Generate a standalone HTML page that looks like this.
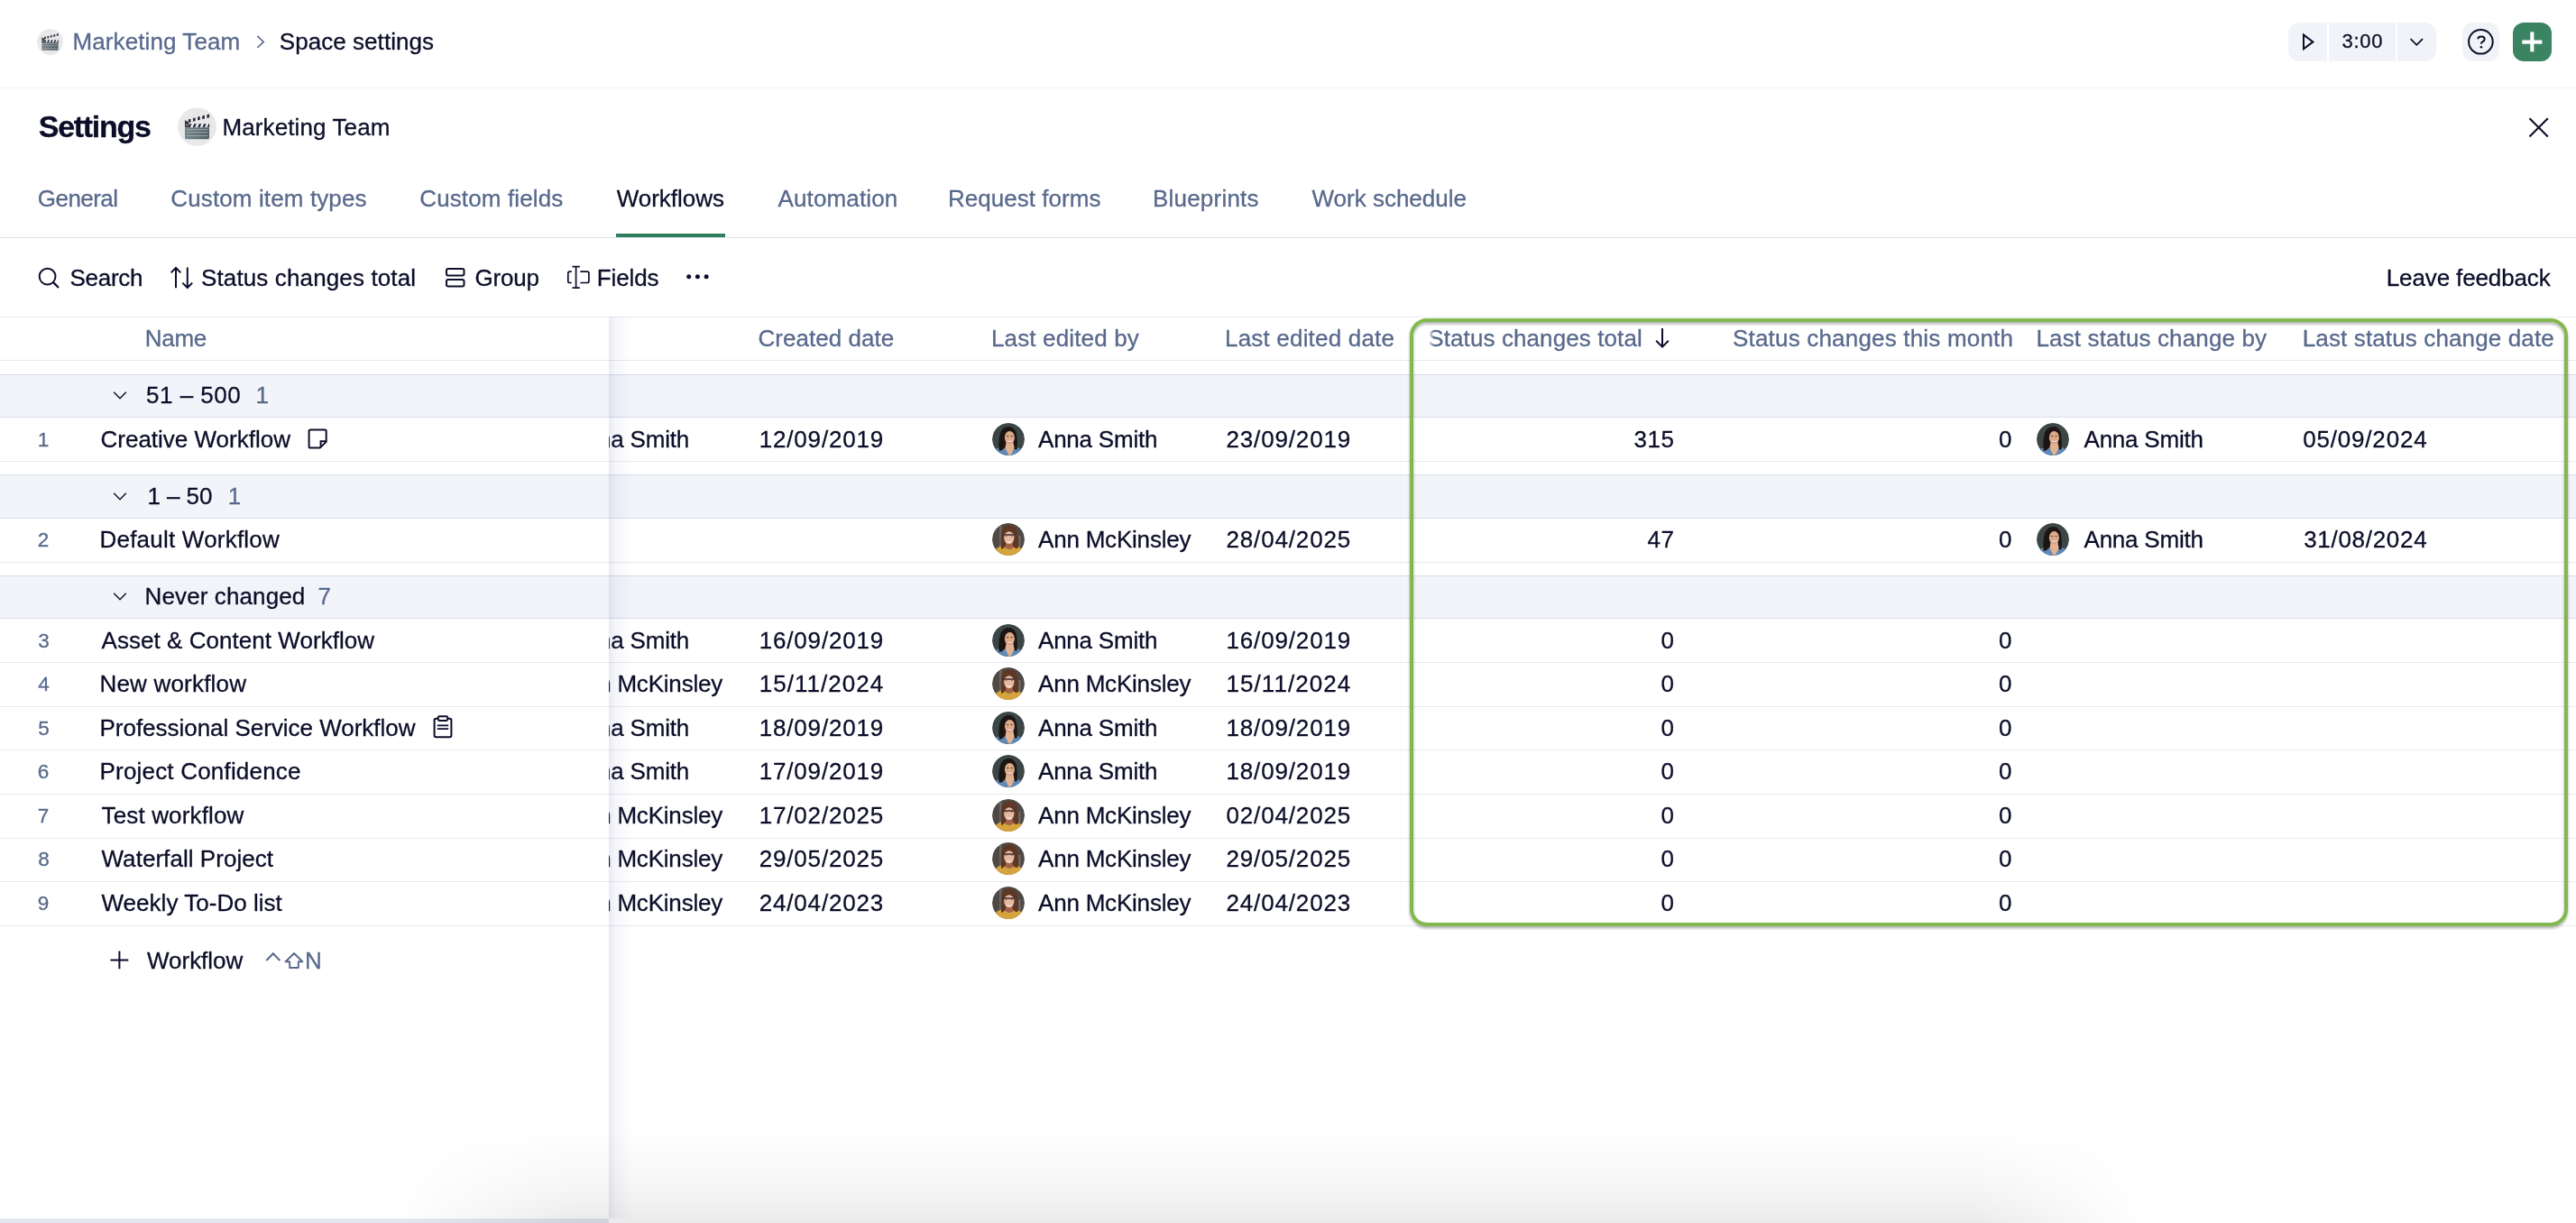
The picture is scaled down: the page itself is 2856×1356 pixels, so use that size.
<!DOCTYPE html>
<html><head><meta charset="utf-8"><title>Space settings</title>
<style>
html,body{margin:0;padding:0;width:2856px;height:1356px;overflow:hidden;background:#fff;}
body{position:relative;font-family:"Liberation Sans",sans-serif;-webkit-font-smoothing:antialiased;}
.t{position:absolute;line-height:0;white-space:nowrap;}
.a{position:absolute;display:block;overflow:visible;}
.r{position:absolute;}
.L{position:absolute;left:0;top:0;width:2856px;height:1356px;will-change:transform;}
.t{-webkit-text-stroke:0.3px currentColor;}
</style></head><body>
<svg width="0" height="0" style="position:absolute"><defs><clipPath id="cav"><circle cx="18" cy="18" r="18"/></clipPath></defs></svg>

<svg class="a" style="left:41px;top:32px" width="29" height="29" viewBox="0 0 43 43">
<defs><linearGradient id="cg41" x1="0" x2="1" y1="0" y2="0"><stop offset="0" stop-color="#76848b"/><stop offset="1" stop-color="#505c63"/></linearGradient></defs>
<circle cx="21.5" cy="21.5" r="21.3" fill="#e8e8e9"/>
<rect x="8" y="22" width="27" height="13.2" rx="1.6" fill="url(#cg41)"/>
<rect x="9.5" y="24.3" width="24" height="0.9" fill="#a9b5bb"/>
<rect x="9.5" y="27.4" width="24" height="0.9" fill="#a9b5bb"/>
<rect x="9.5" y="31.2" width="24" height="0.9" fill="#a9b5bb"/>
<rect x="8" y="18.3" width="27" height="4" fill="#eef0f3"/>
<path d="M11.2 22.3 L13.9 22.3 L15.5 18.3 L12.8 18.3Z M16.6 22.3 L19.3 22.3 L20.9 18.3 L18.2 18.3Z M22.0 22.3 L24.7 22.3 L26.3 18.3 L23.6 18.3Z M27.4 22.3 L30.1 22.3 L31.7 18.3 L29.0 18.3Z M32.6 22.3 L35.3 22.3 L35.0 18.3 L34.2 18.3Z" fill="#2f2e40"/>
<path d="M8 14.3 L34.6 7.6 L35.4 11.2 L8.6 18 Z" fill="#eef0f3"/>
<path d="M11.74 13.38 L14.56 12.68 L14.56 16.39 L11.74 17.09Z M16.89 12.10 L19.70 11.39 L19.70 15.11 L16.89 15.81Z M22.03 10.81 L24.84 10.11 L24.84 13.82 L22.03 14.52Z M27.17 9.53 L29.98 8.82 L29.98 12.53 L27.17 13.24Z M32.31 8.24 L35.12 7.54 L35.12 11.25 L32.31 11.95Z" fill="#2f2e40"/>
<path d="M8 14.2 L8 22.3 L11.6 22.3 L12.2 16.4 Z" fill="#2f2e40"/>
<circle cx="9.9" cy="19.6" r="0.9" fill="#c9ccd4"/>
</svg>
<svg class="a" style="left:0;top:0" width="2856" height="100" viewBox="0 0 2856 100"><polyline points="285.3,39.8 292.2,46.4 285.3,53" fill="none" stroke="#58698c" stroke-width="1.6" stroke-linejoin="miter"/><path d="M2549 25 H2580 V68 H2549 A12 12 0 0 1 2537 56 V37 A12 12 0 0 1 2549 25Z" fill="#f2f3f8"/><rect x="2582" y="25" width="74" height="43" fill="#f2f3f8"/><path d="M2658 25 H2689 A12 12 0 0 1 2701 37 V56 A12 12 0 0 1 2689 68 H2658Z" fill="#f2f3f8"/><path d="M2554 38.6 L2564.4 46.4 L2554 54.2Z" fill="none" stroke="#0c0e29" stroke-width="2" stroke-linejoin="miter"/><polyline points="2672.6,43.2 2679.3,49.8 2686,43.2" fill="none" stroke="#0c0e29" stroke-width="1.8"/><rect x="2730" y="25" width="41" height="43" rx="12" fill="#f2f3f8"/><circle cx="2750.4" cy="46.3" r="13.3" fill="none" stroke="#0c0e29" stroke-width="2"/><path d="M2747.3 43.2 Q2747.3 40.4 2751 40.4 Q2754.7 40.4 2754.7 43.3 Q2754.7 45.3 2752.3 46.3 Q2750.9 47 2750.9 48.8" fill="none" stroke="#0c0e29" stroke-width="2"/><circle cx="2750.9" cy="52.2" r="1.3" fill="#0c0e29"/><rect x="2786" y="25" width="43" height="43" rx="12" fill="#3b8462"/><rect x="2796.3" y="44.5" width="22.1" height="4.2" fill="#fff"/><rect x="2805.3" y="35.4" width="4.1" height="21.9" fill="#fff"/><rect x="0" y="97" width="2856" height="1" fill="#f1f2f7"/></svg>
<svg class="a" style="left:197px;top:119px" width="43" height="43" viewBox="0 0 43 43">
<defs><linearGradient id="cg197" x1="0" x2="1" y1="0" y2="0"><stop offset="0" stop-color="#76848b"/><stop offset="1" stop-color="#505c63"/></linearGradient></defs>
<circle cx="21.5" cy="21.5" r="21.3" fill="#e8e8e9"/>
<rect x="8" y="22" width="27" height="13.2" rx="1.6" fill="url(#cg197)"/>
<rect x="9.5" y="24.3" width="24" height="0.9" fill="#a9b5bb"/>
<rect x="9.5" y="27.4" width="24" height="0.9" fill="#a9b5bb"/>
<rect x="9.5" y="31.2" width="24" height="0.9" fill="#a9b5bb"/>
<rect x="8" y="18.3" width="27" height="4" fill="#eef0f3"/>
<path d="M11.2 22.3 L13.9 22.3 L15.5 18.3 L12.8 18.3Z M16.6 22.3 L19.3 22.3 L20.9 18.3 L18.2 18.3Z M22.0 22.3 L24.7 22.3 L26.3 18.3 L23.6 18.3Z M27.4 22.3 L30.1 22.3 L31.7 18.3 L29.0 18.3Z M32.6 22.3 L35.3 22.3 L35.0 18.3 L34.2 18.3Z" fill="#2f2e40"/>
<path d="M8 14.3 L34.6 7.6 L35.4 11.2 L8.6 18 Z" fill="#eef0f3"/>
<path d="M11.74 13.38 L14.56 12.68 L14.56 16.39 L11.74 17.09Z M16.89 12.10 L19.70 11.39 L19.70 15.11 L16.89 15.81Z M22.03 10.81 L24.84 10.11 L24.84 13.82 L22.03 14.52Z M27.17 9.53 L29.98 8.82 L29.98 12.53 L27.17 13.24Z M32.31 8.24 L35.12 7.54 L35.12 11.25 L32.31 11.95Z" fill="#2f2e40"/>
<path d="M8 14.2 L8 22.3 L11.6 22.3 L12.2 16.4 Z" fill="#2f2e40"/>
<circle cx="9.9" cy="19.6" r="0.9" fill="#c9ccd4"/>
</svg>
<svg class="a" style="left:0;top:100px" width="2856" height="250" viewBox="0 100 2856 250"><path d="M2804.5 131.3 L2824.8 151.6 M2824.8 131.3 L2804.5 151.6" stroke="#0c0e29" stroke-width="2.1"/><rect x="0" y="263" width="2856" height="1" fill="#dfe3ed"/><rect x="683" y="259" width="121" height="4" fill="#2f7d5b"/><circle cx="52.6" cy="306.6" r="8.9" fill="none" stroke="#0c0e29" stroke-width="2"/><path d="M58.9 312.9 L65 319" stroke="#0c0e29" stroke-width="2.2"/><path d="M195 297 V319.3 M189.6 302.4 L195 297 L200.4 302.4" fill="none" stroke="#0c0e29" stroke-width="2"/><path d="M207.8 296.6 V319 M202.4 313.6 L207.8 319 L213.2 313.6" fill="none" stroke="#0c0e29" stroke-width="2"/><rect x="495" y="298" width="19.5" height="7.6" rx="2" fill="none" stroke="#0c0e29" stroke-width="2"/><rect x="495" y="310" width="19.5" height="7.6" rx="2" fill="none" stroke="#0c0e29" stroke-width="2"/><path d="M638.6 295.6 V319.2 M634.5 295.6 H642.8 M634.5 319.2 H642.8" fill="none" stroke="#0c0e29" stroke-width="1.7"/><path d="M633.8 301.2 H631.6 Q629.8 301.2 629.8 303 V311.7 Q629.8 313.5 631.6 313.5 H633.8" fill="none" stroke="#0c0e29" stroke-width="1.7"/><path d="M643.4 301.2 H651 Q652.9 301.2 652.9 303 V311.7 Q652.9 313.5 651 313.5 H643.4" fill="none" stroke="#0c0e29" stroke-width="1.7"/><circle cx="763.7" cy="306.8" r="2.5" fill="#0c0e29"/><circle cx="773.4" cy="306.8" r="2.5" fill="#0c0e29"/><circle cx="783.1" cy="306.8" r="2.5" fill="#0c0e29"/></svg>
<div class="L"><div class="t" style="left:80.50px;top:45.89px;font-size:26px;color:#58698c;letter-spacing:0.092px;">Marketing Team</div>
<div class="t" style="left:309.80px;top:46.09px;font-size:26px;color:#0c0e29;letter-spacing:0.050px;">Space settings</div>
<div class="t" style="left:2596.50px;top:45.98px;font-size:22px;color:#0c0e29;letter-spacing:0.722px;">3:00</div>
<div class="t" style="left:42.75px;top:139.52px;font-size:34px;color:#0c0e29;letter-spacing:-1.295px;font-weight:700;">Settings</div>
<div class="t" style="left:246.40px;top:141.39px;font-size:26px;color:#0c0e29;letter-spacing:0.119px;">Marketing Team</div>
<div class="t" style="left:41.75px;top:220.29px;font-size:26px;color:#58698c;letter-spacing:-0.529px;">General</div>
<div class="t" style="left:189.30px;top:220.29px;font-size:26px;color:#58698c;letter-spacing:0.120px;">Custom item types</div>
<div class="t" style="left:465.25px;top:220.29px;font-size:26px;color:#58698c;letter-spacing:0.125px;">Custom fields</div>
<div class="t" style="left:683.75px;top:220.29px;font-size:26px;color:#0c0e29;letter-spacing:-0.022px;">Workflows</div>
<div class="t" style="left:862.50px;top:220.29px;font-size:26px;color:#58698c;letter-spacing:0.132px;">Automation</div>
<div class="t" style="left:1051.00px;top:220.29px;font-size:26px;color:#58698c;letter-spacing:0.036px;">Request forms</div>
<div class="t" style="left:1278.00px;top:220.29px;font-size:26px;color:#58698c;letter-spacing:0.209px;">Blueprints</div>
<div class="t" style="left:1454.50px;top:220.29px;font-size:26px;color:#58698c;">Work schedule</div>
<div class="t" style="left:77.40px;top:308.19px;font-size:26px;color:#0c0e29;letter-spacing:-0.244px;">Search</div>
<div class="t" style="left:223.00px;top:308.19px;font-size:26px;color:#0c0e29;letter-spacing:0.130px;">Status changes total</div>
<div class="t" style="left:526.50px;top:308.19px;font-size:26px;color:#0c0e29;letter-spacing:-0.200px;">Group</div>
<div class="t" style="left:661.75px;top:308.19px;font-size:26px;color:#0c0e29;letter-spacing:-0.121px;">Fields</div>
<div class="t" style="left:2645.75px;top:308.29px;font-size:26px;color:#0c0e29;letter-spacing:-0.122px;">Leave feedback</div></div>
<svg class="a" style="left:0;top:0" width="2856" height="1356" viewBox="0 0 2856 1356"><rect x="0" y="351" width="2856" height="1" fill="#e8ebf2"/><rect x="0" y="399" width="2856" height="1" fill="#e6e9f1"/><rect x="0" y="415" width="2856" height="47" fill="#f3f4f9"/><rect x="0" y="415" width="2856" height="1" fill="#d6dce8"/><rect x="0" y="462" width="2856" height="1" fill="#d6dce8"/><rect x="0" y="526" width="2856" height="48" fill="#f3f4f9"/><rect x="0" y="526" width="2856" height="1" fill="#d6dce8"/><rect x="0" y="574" width="2856" height="1" fill="#d6dce8"/><rect x="0" y="638" width="2856" height="47" fill="#f3f4f9"/><rect x="0" y="638" width="2856" height="1" fill="#d6dce8"/><rect x="0" y="685" width="2856" height="1" fill="#d6dce8"/><rect x="0" y="511" width="2856" height="1" fill="#e6e9f1"/><rect x="0" y="623" width="2856" height="1" fill="#e6e9f1"/><rect x="0" y="734" width="2856" height="1" fill="#e6e9f1"/><rect x="0" y="783" width="2856" height="1" fill="#e6e9f1"/><rect x="0" y="831" width="2856" height="1" fill="#e6e9f1"/><rect x="0" y="880" width="2856" height="1" fill="#e6e9f1"/><rect x="0" y="929" width="2856" height="1" fill="#e6e9f1"/><rect x="0" y="977" width="2856" height="1" fill="#e6e9f1"/><rect x="0" y="1026" width="2856" height="1" fill="#e6e9f1"/></svg>
<div class="L"><div class="t" style="left:840.50px;top:375.19px;font-size:26px;color:#58698c;letter-spacing:0.035px;">Created date</div>
<div class="t" style="left:1099.00px;top:375.19px;font-size:26px;color:#58698c;letter-spacing:0.143px;">Last edited by</div>
<div class="t" style="left:1358.00px;top:375.19px;font-size:26px;color:#58698c;letter-spacing:0.195px;">Last edited date</div>
<div class="t" style="left:1583.25px;top:375.19px;font-size:26px;color:#58698c;letter-spacing:0.101px;">Status changes total</div>
<div class="t" style="left:1921.00px;top:375.19px;font-size:26px;color:#58698c;letter-spacing:0.190px;">Status changes this month</div>
<div class="t" style="left:2257.50px;top:375.19px;font-size:26px;color:#58698c;letter-spacing:0.128px;">Last status change by</div>
<div class="t" style="left:2552.75px;top:375.19px;font-size:26px;color:#58698c;letter-spacing:0.131px;">Last status change date</div>
<div class="t" style="left:631.75px;top:486.99px;font-size:26px;color:#0c0e29;letter-spacing:-0.216px;">Anna Smith</div>
<div class="t" style="left:841.75px;top:486.99px;font-size:26px;color:#0c0e29;letter-spacing:0.815px;">12/09/2019</div>
<div class="t" style="left:1151.00px;top:486.99px;font-size:26px;color:#0c0e29;letter-spacing:-0.216px;">Anna Smith</div>
<div class="t" style="left:1359.50px;top:486.99px;font-size:26px;color:#0c0e29;letter-spacing:0.843px;">23/09/2019</div>
<div class="t" style="left:1811.38px;top:486.99px;font-size:26px;color:#0c0e29;letter-spacing:0.600px;">315</div>
<div class="t" style="left:2216.00px;top:486.99px;font-size:26px;color:#0c0e29;letter-spacing:0.600px;">0</div>
<div class="t" style="left:2310.50px;top:486.99px;font-size:26px;color:#0c0e29;letter-spacing:-0.216px;">Anna Smith</div>
<div class="t" style="left:2553.20px;top:486.99px;font-size:26px;color:#0c0e29;letter-spacing:0.815px;">05/09/2024</div>
<div class="t" style="left:1151.00px;top:597.99px;font-size:26px;color:#0c0e29;letter-spacing:-0.205px;">Ann McKinsley</div>
<div class="t" style="left:1359.50px;top:597.99px;font-size:26px;color:#0c0e29;letter-spacing:0.843px;">28/04/2025</div>
<div class="t" style="left:1826.44px;top:597.99px;font-size:26px;color:#0c0e29;letter-spacing:0.600px;">47</div>
<div class="t" style="left:2216.00px;top:597.99px;font-size:26px;color:#0c0e29;letter-spacing:0.600px;">0</div>
<div class="t" style="left:2310.50px;top:597.99px;font-size:26px;color:#0c0e29;letter-spacing:-0.216px;">Anna Smith</div>
<div class="t" style="left:2554.20px;top:597.99px;font-size:26px;color:#0c0e29;letter-spacing:0.704px;">31/08/2024</div>
<div class="t" style="left:631.75px;top:709.99px;font-size:26px;color:#0c0e29;letter-spacing:-0.216px;">Anna Smith</div>
<div class="t" style="left:841.75px;top:709.99px;font-size:26px;color:#0c0e29;letter-spacing:0.815px;">16/09/2019</div>
<div class="t" style="left:1151.00px;top:709.99px;font-size:26px;color:#0c0e29;letter-spacing:-0.216px;">Anna Smith</div>
<div class="t" style="left:1359.50px;top:709.99px;font-size:26px;color:#0c0e29;letter-spacing:0.843px;">16/09/2019</div>
<div class="t" style="left:1841.50px;top:709.99px;font-size:26px;color:#0c0e29;letter-spacing:0.600px;">0</div>
<div class="t" style="left:2216.00px;top:709.99px;font-size:26px;color:#0c0e29;letter-spacing:0.600px;">0</div>
<div class="t" style="left:631.75px;top:757.99px;font-size:26px;color:#0c0e29;letter-spacing:-0.205px;">Ann McKinsley</div>
<div class="t" style="left:841.75px;top:757.99px;font-size:26px;color:#0c0e29;letter-spacing:1.029px;">15/11/2024</div>
<div class="t" style="left:1151.00px;top:757.99px;font-size:26px;color:#0c0e29;letter-spacing:-0.205px;">Ann McKinsley</div>
<div class="t" style="left:1359.50px;top:757.99px;font-size:26px;color:#0c0e29;letter-spacing:1.057px;">15/11/2024</div>
<div class="t" style="left:1841.50px;top:757.99px;font-size:26px;color:#0c0e29;letter-spacing:0.600px;">0</div>
<div class="t" style="left:2216.00px;top:757.99px;font-size:26px;color:#0c0e29;letter-spacing:0.600px;">0</div>
<div class="t" style="left:631.75px;top:806.99px;font-size:26px;color:#0c0e29;letter-spacing:-0.216px;">Anna Smith</div>
<div class="t" style="left:841.75px;top:806.99px;font-size:26px;color:#0c0e29;letter-spacing:0.815px;">18/09/2019</div>
<div class="t" style="left:1151.00px;top:806.99px;font-size:26px;color:#0c0e29;letter-spacing:-0.216px;">Anna Smith</div>
<div class="t" style="left:1359.50px;top:806.99px;font-size:26px;color:#0c0e29;letter-spacing:0.843px;">18/09/2019</div>
<div class="t" style="left:1841.50px;top:806.99px;font-size:26px;color:#0c0e29;letter-spacing:0.600px;">0</div>
<div class="t" style="left:2216.00px;top:806.99px;font-size:26px;color:#0c0e29;letter-spacing:0.600px;">0</div>
<div class="t" style="left:631.75px;top:855.29px;font-size:26px;color:#0c0e29;letter-spacing:-0.216px;">Anna Smith</div>
<div class="t" style="left:841.75px;top:855.29px;font-size:26px;color:#0c0e29;letter-spacing:0.815px;">17/09/2019</div>
<div class="t" style="left:1151.00px;top:855.29px;font-size:26px;color:#0c0e29;letter-spacing:-0.216px;">Anna Smith</div>
<div class="t" style="left:1359.50px;top:855.29px;font-size:26px;color:#0c0e29;letter-spacing:0.843px;">18/09/2019</div>
<div class="t" style="left:1841.50px;top:855.29px;font-size:26px;color:#0c0e29;letter-spacing:0.600px;">0</div>
<div class="t" style="left:2216.00px;top:855.29px;font-size:26px;color:#0c0e29;letter-spacing:0.600px;">0</div>
<div class="t" style="left:631.75px;top:903.99px;font-size:26px;color:#0c0e29;letter-spacing:-0.205px;">Ann McKinsley</div>
<div class="t" style="left:841.75px;top:903.99px;font-size:26px;color:#0c0e29;letter-spacing:0.815px;">17/02/2025</div>
<div class="t" style="left:1151.00px;top:903.99px;font-size:26px;color:#0c0e29;letter-spacing:-0.205px;">Ann McKinsley</div>
<div class="t" style="left:1359.50px;top:903.99px;font-size:26px;color:#0c0e29;letter-spacing:0.843px;">02/04/2025</div>
<div class="t" style="left:1841.50px;top:903.99px;font-size:26px;color:#0c0e29;letter-spacing:0.600px;">0</div>
<div class="t" style="left:2216.00px;top:903.99px;font-size:26px;color:#0c0e29;letter-spacing:0.600px;">0</div>
<div class="t" style="left:631.75px;top:952.39px;font-size:26px;color:#0c0e29;letter-spacing:-0.205px;">Ann McKinsley</div>
<div class="t" style="left:841.75px;top:952.39px;font-size:26px;color:#0c0e29;letter-spacing:0.815px;">29/05/2025</div>
<div class="t" style="left:1151.00px;top:952.39px;font-size:26px;color:#0c0e29;letter-spacing:-0.205px;">Ann McKinsley</div>
<div class="t" style="left:1359.50px;top:952.39px;font-size:26px;color:#0c0e29;letter-spacing:0.843px;">29/05/2025</div>
<div class="t" style="left:1841.50px;top:952.39px;font-size:26px;color:#0c0e29;letter-spacing:0.600px;">0</div>
<div class="t" style="left:2216.00px;top:952.39px;font-size:26px;color:#0c0e29;letter-spacing:0.600px;">0</div>
<div class="t" style="left:631.75px;top:1000.99px;font-size:26px;color:#0c0e29;letter-spacing:-0.205px;">Ann McKinsley</div>
<div class="t" style="left:841.75px;top:1000.99px;font-size:26px;color:#0c0e29;letter-spacing:0.815px;">24/04/2023</div>
<div class="t" style="left:1151.00px;top:1000.99px;font-size:26px;color:#0c0e29;letter-spacing:-0.205px;">Ann McKinsley</div>
<div class="t" style="left:1359.50px;top:1000.99px;font-size:26px;color:#0c0e29;letter-spacing:0.843px;">24/04/2023</div>
<div class="t" style="left:1841.50px;top:1000.99px;font-size:26px;color:#0c0e29;letter-spacing:0.600px;">0</div>
<div class="t" style="left:2216.00px;top:1000.99px;font-size:26px;color:#0c0e29;letter-spacing:0.600px;">0</div></div>
<svg class="a" style="left:580.5px;top:469.00px" width="36" height="36" viewBox="0 0 36 36">
<g clip-path="url(#cav)"><circle cx="18" cy="18" r="18" fill="#3c4647"/>
<path d="M0 36 L2.5 30 Q5 27.6 10 27 L27 27 Q31 27.6 34 30 L36 36Z" fill="#6189b6"/>
<path d="M7.6 30.5 Q6.6 20 8.8 12 Q11.4 3.8 18.6 3.9 Q25.2 4.2 27 12 Q28.4 20 27.6 29 Q25.6 30.5 23.6 27.8 L13.2 27.8 Q11 31.5 7.6 30.5Z" fill="#1c1514"/>
<path d="M15.6 21 L23.4 21 L24.6 27.5 Q21 36 19.6 36 Q18.2 36 14.4 27.5Z" fill="#e2b291"/>
<ellipse cx="19.4" cy="16.2" rx="5.5" ry="7.2" fill="#dcaa88"/>
<path d="M17.1 19.9 Q19.6 22 22.3 19.9" stroke="#f3e6e2" stroke-width="1.5" fill="none"/><path d="M17.3 21.3 Q19.6 22.6 22.1 21.3" stroke="#c5787e" stroke-width="0.9" fill="none"/>
<path d="M16.2 14.6 h2 M20.6 14.6 h2" stroke="#3a2420" stroke-width="0.9"/>
</g></svg>
<svg class="a" style="left:1100px;top:469.00px" width="36" height="36" viewBox="0 0 36 36">
<g clip-path="url(#cav)"><circle cx="18" cy="18" r="18" fill="#3c4647"/>
<path d="M0 36 L2.5 30 Q5 27.6 10 27 L27 27 Q31 27.6 34 30 L36 36Z" fill="#6189b6"/>
<path d="M7.6 30.5 Q6.6 20 8.8 12 Q11.4 3.8 18.6 3.9 Q25.2 4.2 27 12 Q28.4 20 27.6 29 Q25.6 30.5 23.6 27.8 L13.2 27.8 Q11 31.5 7.6 30.5Z" fill="#1c1514"/>
<path d="M15.6 21 L23.4 21 L24.6 27.5 Q21 36 19.6 36 Q18.2 36 14.4 27.5Z" fill="#e2b291"/>
<ellipse cx="19.4" cy="16.2" rx="5.5" ry="7.2" fill="#dcaa88"/>
<path d="M17.1 19.9 Q19.6 22 22.3 19.9" stroke="#f3e6e2" stroke-width="1.5" fill="none"/><path d="M17.3 21.3 Q19.6 22.6 22.1 21.3" stroke="#c5787e" stroke-width="0.9" fill="none"/>
<path d="M16.2 14.6 h2 M20.6 14.6 h2" stroke="#3a2420" stroke-width="0.9"/>
</g></svg>
<svg class="a" style="left:2258.2px;top:469.00px" width="36" height="36" viewBox="0 0 36 36">
<g clip-path="url(#cav)"><circle cx="18" cy="18" r="18" fill="#3c4647"/>
<path d="M0 36 L2.5 30 Q5 27.6 10 27 L27 27 Q31 27.6 34 30 L36 36Z" fill="#6189b6"/>
<path d="M7.6 30.5 Q6.6 20 8.8 12 Q11.4 3.8 18.6 3.9 Q25.2 4.2 27 12 Q28.4 20 27.6 29 Q25.6 30.5 23.6 27.8 L13.2 27.8 Q11 31.5 7.6 30.5Z" fill="#1c1514"/>
<path d="M15.6 21 L23.4 21 L24.6 27.5 Q21 36 19.6 36 Q18.2 36 14.4 27.5Z" fill="#e2b291"/>
<ellipse cx="19.4" cy="16.2" rx="5.5" ry="7.2" fill="#dcaa88"/>
<path d="M17.1 19.9 Q19.6 22 22.3 19.9" stroke="#f3e6e2" stroke-width="1.5" fill="none"/><path d="M17.3 21.3 Q19.6 22.6 22.1 21.3" stroke="#c5787e" stroke-width="0.9" fill="none"/>
<path d="M16.2 14.6 h2 M20.6 14.6 h2" stroke="#3a2420" stroke-width="0.9"/>
</g></svg>
<svg class="a" style="left:1100px;top:580.00px" width="36" height="36" viewBox="0 0 36 36">
<g clip-path="url(#cav)"><circle cx="18" cy="18" r="18" fill="#4f4945"/>
<rect x="8" y="0" width="2.4" height="36" fill="#7a7470" opacity="0.7"/>
<rect x="29.5" y="14" width="2" height="12" fill="#8d8a88" opacity="0.6"/>
<path d="M1 36 L4 29 Q7 25.4 12 25 L25 25 Q30 25.4 33 29 L35 36Z" fill="#d6a43e"/>
<path d="M10 28.4 Q9 18 10.5 9 Q13 2.3 19 2.3 Q25.5 2.6 27.6 9 Q29.6 18 28.8 27.6 Q26 29 24 26.2 L14 26.2 Q12 29.4 10 28.4Z" fill="#5e3725"/>
<path d="M15.2 21.5 L22.6 21.5 L23.2 27.6 Q19 30.2 14.8 27.6Z" fill="#a2634a"/>
<ellipse cx="18.8" cy="16.2" rx="5.6" ry="7" fill="#e4bba2"/>
<path d="M12.4 11 Q18.5 6.5 25.4 11.4 L25.4 8.4 Q18.5 3.8 12.4 8.6Z" fill="#5e3725"/>
<path d="M11.6 12.9 H24.6" stroke="#3b2a36" stroke-width="1.5"/>
<path d="M13 13 Q15.5 16 17.6 13 M19.8 13 Q22 16 24 13" stroke="#6b4a4a" stroke-width="0.9" fill="none"/>
<path d="M16.2 20.4 Q18.7 22.4 21.4 20.4" stroke="#f7eee9" stroke-width="1.3" fill="none"/>
</g></svg>
<svg class="a" style="left:2258.2px;top:580.00px" width="36" height="36" viewBox="0 0 36 36">
<g clip-path="url(#cav)"><circle cx="18" cy="18" r="18" fill="#3c4647"/>
<path d="M0 36 L2.5 30 Q5 27.6 10 27 L27 27 Q31 27.6 34 30 L36 36Z" fill="#6189b6"/>
<path d="M7.6 30.5 Q6.6 20 8.8 12 Q11.4 3.8 18.6 3.9 Q25.2 4.2 27 12 Q28.4 20 27.6 29 Q25.6 30.5 23.6 27.8 L13.2 27.8 Q11 31.5 7.6 30.5Z" fill="#1c1514"/>
<path d="M15.6 21 L23.4 21 L24.6 27.5 Q21 36 19.6 36 Q18.2 36 14.4 27.5Z" fill="#e2b291"/>
<ellipse cx="19.4" cy="16.2" rx="5.5" ry="7.2" fill="#dcaa88"/>
<path d="M17.1 19.9 Q19.6 22 22.3 19.9" stroke="#f3e6e2" stroke-width="1.5" fill="none"/><path d="M17.3 21.3 Q19.6 22.6 22.1 21.3" stroke="#c5787e" stroke-width="0.9" fill="none"/>
<path d="M16.2 14.6 h2 M20.6 14.6 h2" stroke="#3a2420" stroke-width="0.9"/>
</g></svg>
<svg class="a" style="left:580.5px;top:692.00px" width="36" height="36" viewBox="0 0 36 36">
<g clip-path="url(#cav)"><circle cx="18" cy="18" r="18" fill="#3c4647"/>
<path d="M0 36 L2.5 30 Q5 27.6 10 27 L27 27 Q31 27.6 34 30 L36 36Z" fill="#6189b6"/>
<path d="M7.6 30.5 Q6.6 20 8.8 12 Q11.4 3.8 18.6 3.9 Q25.2 4.2 27 12 Q28.4 20 27.6 29 Q25.6 30.5 23.6 27.8 L13.2 27.8 Q11 31.5 7.6 30.5Z" fill="#1c1514"/>
<path d="M15.6 21 L23.4 21 L24.6 27.5 Q21 36 19.6 36 Q18.2 36 14.4 27.5Z" fill="#e2b291"/>
<ellipse cx="19.4" cy="16.2" rx="5.5" ry="7.2" fill="#dcaa88"/>
<path d="M17.1 19.9 Q19.6 22 22.3 19.9" stroke="#f3e6e2" stroke-width="1.5" fill="none"/><path d="M17.3 21.3 Q19.6 22.6 22.1 21.3" stroke="#c5787e" stroke-width="0.9" fill="none"/>
<path d="M16.2 14.6 h2 M20.6 14.6 h2" stroke="#3a2420" stroke-width="0.9"/>
</g></svg>
<svg class="a" style="left:1100px;top:692.00px" width="36" height="36" viewBox="0 0 36 36">
<g clip-path="url(#cav)"><circle cx="18" cy="18" r="18" fill="#3c4647"/>
<path d="M0 36 L2.5 30 Q5 27.6 10 27 L27 27 Q31 27.6 34 30 L36 36Z" fill="#6189b6"/>
<path d="M7.6 30.5 Q6.6 20 8.8 12 Q11.4 3.8 18.6 3.9 Q25.2 4.2 27 12 Q28.4 20 27.6 29 Q25.6 30.5 23.6 27.8 L13.2 27.8 Q11 31.5 7.6 30.5Z" fill="#1c1514"/>
<path d="M15.6 21 L23.4 21 L24.6 27.5 Q21 36 19.6 36 Q18.2 36 14.4 27.5Z" fill="#e2b291"/>
<ellipse cx="19.4" cy="16.2" rx="5.5" ry="7.2" fill="#dcaa88"/>
<path d="M17.1 19.9 Q19.6 22 22.3 19.9" stroke="#f3e6e2" stroke-width="1.5" fill="none"/><path d="M17.3 21.3 Q19.6 22.6 22.1 21.3" stroke="#c5787e" stroke-width="0.9" fill="none"/>
<path d="M16.2 14.6 h2 M20.6 14.6 h2" stroke="#3a2420" stroke-width="0.9"/>
</g></svg>
<svg class="a" style="left:580.5px;top:740.00px" width="36" height="36" viewBox="0 0 36 36">
<g clip-path="url(#cav)"><circle cx="18" cy="18" r="18" fill="#4f4945"/>
<rect x="8" y="0" width="2.4" height="36" fill="#7a7470" opacity="0.7"/>
<rect x="29.5" y="14" width="2" height="12" fill="#8d8a88" opacity="0.6"/>
<path d="M1 36 L4 29 Q7 25.4 12 25 L25 25 Q30 25.4 33 29 L35 36Z" fill="#d6a43e"/>
<path d="M10 28.4 Q9 18 10.5 9 Q13 2.3 19 2.3 Q25.5 2.6 27.6 9 Q29.6 18 28.8 27.6 Q26 29 24 26.2 L14 26.2 Q12 29.4 10 28.4Z" fill="#5e3725"/>
<path d="M15.2 21.5 L22.6 21.5 L23.2 27.6 Q19 30.2 14.8 27.6Z" fill="#a2634a"/>
<ellipse cx="18.8" cy="16.2" rx="5.6" ry="7" fill="#e4bba2"/>
<path d="M12.4 11 Q18.5 6.5 25.4 11.4 L25.4 8.4 Q18.5 3.8 12.4 8.6Z" fill="#5e3725"/>
<path d="M11.6 12.9 H24.6" stroke="#3b2a36" stroke-width="1.5"/>
<path d="M13 13 Q15.5 16 17.6 13 M19.8 13 Q22 16 24 13" stroke="#6b4a4a" stroke-width="0.9" fill="none"/>
<path d="M16.2 20.4 Q18.7 22.4 21.4 20.4" stroke="#f7eee9" stroke-width="1.3" fill="none"/>
</g></svg>
<svg class="a" style="left:1100px;top:740.00px" width="36" height="36" viewBox="0 0 36 36">
<g clip-path="url(#cav)"><circle cx="18" cy="18" r="18" fill="#4f4945"/>
<rect x="8" y="0" width="2.4" height="36" fill="#7a7470" opacity="0.7"/>
<rect x="29.5" y="14" width="2" height="12" fill="#8d8a88" opacity="0.6"/>
<path d="M1 36 L4 29 Q7 25.4 12 25 L25 25 Q30 25.4 33 29 L35 36Z" fill="#d6a43e"/>
<path d="M10 28.4 Q9 18 10.5 9 Q13 2.3 19 2.3 Q25.5 2.6 27.6 9 Q29.6 18 28.8 27.6 Q26 29 24 26.2 L14 26.2 Q12 29.4 10 28.4Z" fill="#5e3725"/>
<path d="M15.2 21.5 L22.6 21.5 L23.2 27.6 Q19 30.2 14.8 27.6Z" fill="#a2634a"/>
<ellipse cx="18.8" cy="16.2" rx="5.6" ry="7" fill="#e4bba2"/>
<path d="M12.4 11 Q18.5 6.5 25.4 11.4 L25.4 8.4 Q18.5 3.8 12.4 8.6Z" fill="#5e3725"/>
<path d="M11.6 12.9 H24.6" stroke="#3b2a36" stroke-width="1.5"/>
<path d="M13 13 Q15.5 16 17.6 13 M19.8 13 Q22 16 24 13" stroke="#6b4a4a" stroke-width="0.9" fill="none"/>
<path d="M16.2 20.4 Q18.7 22.4 21.4 20.4" stroke="#f7eee9" stroke-width="1.3" fill="none"/>
</g></svg>
<svg class="a" style="left:580.5px;top:789.00px" width="36" height="36" viewBox="0 0 36 36">
<g clip-path="url(#cav)"><circle cx="18" cy="18" r="18" fill="#3c4647"/>
<path d="M0 36 L2.5 30 Q5 27.6 10 27 L27 27 Q31 27.6 34 30 L36 36Z" fill="#6189b6"/>
<path d="M7.6 30.5 Q6.6 20 8.8 12 Q11.4 3.8 18.6 3.9 Q25.2 4.2 27 12 Q28.4 20 27.6 29 Q25.6 30.5 23.6 27.8 L13.2 27.8 Q11 31.5 7.6 30.5Z" fill="#1c1514"/>
<path d="M15.6 21 L23.4 21 L24.6 27.5 Q21 36 19.6 36 Q18.2 36 14.4 27.5Z" fill="#e2b291"/>
<ellipse cx="19.4" cy="16.2" rx="5.5" ry="7.2" fill="#dcaa88"/>
<path d="M17.1 19.9 Q19.6 22 22.3 19.9" stroke="#f3e6e2" stroke-width="1.5" fill="none"/><path d="M17.3 21.3 Q19.6 22.6 22.1 21.3" stroke="#c5787e" stroke-width="0.9" fill="none"/>
<path d="M16.2 14.6 h2 M20.6 14.6 h2" stroke="#3a2420" stroke-width="0.9"/>
</g></svg>
<svg class="a" style="left:1100px;top:789.00px" width="36" height="36" viewBox="0 0 36 36">
<g clip-path="url(#cav)"><circle cx="18" cy="18" r="18" fill="#3c4647"/>
<path d="M0 36 L2.5 30 Q5 27.6 10 27 L27 27 Q31 27.6 34 30 L36 36Z" fill="#6189b6"/>
<path d="M7.6 30.5 Q6.6 20 8.8 12 Q11.4 3.8 18.6 3.9 Q25.2 4.2 27 12 Q28.4 20 27.6 29 Q25.6 30.5 23.6 27.8 L13.2 27.8 Q11 31.5 7.6 30.5Z" fill="#1c1514"/>
<path d="M15.6 21 L23.4 21 L24.6 27.5 Q21 36 19.6 36 Q18.2 36 14.4 27.5Z" fill="#e2b291"/>
<ellipse cx="19.4" cy="16.2" rx="5.5" ry="7.2" fill="#dcaa88"/>
<path d="M17.1 19.9 Q19.6 22 22.3 19.9" stroke="#f3e6e2" stroke-width="1.5" fill="none"/><path d="M17.3 21.3 Q19.6 22.6 22.1 21.3" stroke="#c5787e" stroke-width="0.9" fill="none"/>
<path d="M16.2 14.6 h2 M20.6 14.6 h2" stroke="#3a2420" stroke-width="0.9"/>
</g></svg>
<svg class="a" style="left:580.5px;top:837.30px" width="36" height="36" viewBox="0 0 36 36">
<g clip-path="url(#cav)"><circle cx="18" cy="18" r="18" fill="#3c4647"/>
<path d="M0 36 L2.5 30 Q5 27.6 10 27 L27 27 Q31 27.6 34 30 L36 36Z" fill="#6189b6"/>
<path d="M7.6 30.5 Q6.6 20 8.8 12 Q11.4 3.8 18.6 3.9 Q25.2 4.2 27 12 Q28.4 20 27.6 29 Q25.6 30.5 23.6 27.8 L13.2 27.8 Q11 31.5 7.6 30.5Z" fill="#1c1514"/>
<path d="M15.6 21 L23.4 21 L24.6 27.5 Q21 36 19.6 36 Q18.2 36 14.4 27.5Z" fill="#e2b291"/>
<ellipse cx="19.4" cy="16.2" rx="5.5" ry="7.2" fill="#dcaa88"/>
<path d="M17.1 19.9 Q19.6 22 22.3 19.9" stroke="#f3e6e2" stroke-width="1.5" fill="none"/><path d="M17.3 21.3 Q19.6 22.6 22.1 21.3" stroke="#c5787e" stroke-width="0.9" fill="none"/>
<path d="M16.2 14.6 h2 M20.6 14.6 h2" stroke="#3a2420" stroke-width="0.9"/>
</g></svg>
<svg class="a" style="left:1100px;top:837.30px" width="36" height="36" viewBox="0 0 36 36">
<g clip-path="url(#cav)"><circle cx="18" cy="18" r="18" fill="#3c4647"/>
<path d="M0 36 L2.5 30 Q5 27.6 10 27 L27 27 Q31 27.6 34 30 L36 36Z" fill="#6189b6"/>
<path d="M7.6 30.5 Q6.6 20 8.8 12 Q11.4 3.8 18.6 3.9 Q25.2 4.2 27 12 Q28.4 20 27.6 29 Q25.6 30.5 23.6 27.8 L13.2 27.8 Q11 31.5 7.6 30.5Z" fill="#1c1514"/>
<path d="M15.6 21 L23.4 21 L24.6 27.5 Q21 36 19.6 36 Q18.2 36 14.4 27.5Z" fill="#e2b291"/>
<ellipse cx="19.4" cy="16.2" rx="5.5" ry="7.2" fill="#dcaa88"/>
<path d="M17.1 19.9 Q19.6 22 22.3 19.9" stroke="#f3e6e2" stroke-width="1.5" fill="none"/><path d="M17.3 21.3 Q19.6 22.6 22.1 21.3" stroke="#c5787e" stroke-width="0.9" fill="none"/>
<path d="M16.2 14.6 h2 M20.6 14.6 h2" stroke="#3a2420" stroke-width="0.9"/>
</g></svg>
<svg class="a" style="left:580.5px;top:886.00px" width="36" height="36" viewBox="0 0 36 36">
<g clip-path="url(#cav)"><circle cx="18" cy="18" r="18" fill="#4f4945"/>
<rect x="8" y="0" width="2.4" height="36" fill="#7a7470" opacity="0.7"/>
<rect x="29.5" y="14" width="2" height="12" fill="#8d8a88" opacity="0.6"/>
<path d="M1 36 L4 29 Q7 25.4 12 25 L25 25 Q30 25.4 33 29 L35 36Z" fill="#d6a43e"/>
<path d="M10 28.4 Q9 18 10.5 9 Q13 2.3 19 2.3 Q25.5 2.6 27.6 9 Q29.6 18 28.8 27.6 Q26 29 24 26.2 L14 26.2 Q12 29.4 10 28.4Z" fill="#5e3725"/>
<path d="M15.2 21.5 L22.6 21.5 L23.2 27.6 Q19 30.2 14.8 27.6Z" fill="#a2634a"/>
<ellipse cx="18.8" cy="16.2" rx="5.6" ry="7" fill="#e4bba2"/>
<path d="M12.4 11 Q18.5 6.5 25.4 11.4 L25.4 8.4 Q18.5 3.8 12.4 8.6Z" fill="#5e3725"/>
<path d="M11.6 12.9 H24.6" stroke="#3b2a36" stroke-width="1.5"/>
<path d="M13 13 Q15.5 16 17.6 13 M19.8 13 Q22 16 24 13" stroke="#6b4a4a" stroke-width="0.9" fill="none"/>
<path d="M16.2 20.4 Q18.7 22.4 21.4 20.4" stroke="#f7eee9" stroke-width="1.3" fill="none"/>
</g></svg>
<svg class="a" style="left:1100px;top:886.00px" width="36" height="36" viewBox="0 0 36 36">
<g clip-path="url(#cav)"><circle cx="18" cy="18" r="18" fill="#4f4945"/>
<rect x="8" y="0" width="2.4" height="36" fill="#7a7470" opacity="0.7"/>
<rect x="29.5" y="14" width="2" height="12" fill="#8d8a88" opacity="0.6"/>
<path d="M1 36 L4 29 Q7 25.4 12 25 L25 25 Q30 25.4 33 29 L35 36Z" fill="#d6a43e"/>
<path d="M10 28.4 Q9 18 10.5 9 Q13 2.3 19 2.3 Q25.5 2.6 27.6 9 Q29.6 18 28.8 27.6 Q26 29 24 26.2 L14 26.2 Q12 29.4 10 28.4Z" fill="#5e3725"/>
<path d="M15.2 21.5 L22.6 21.5 L23.2 27.6 Q19 30.2 14.8 27.6Z" fill="#a2634a"/>
<ellipse cx="18.8" cy="16.2" rx="5.6" ry="7" fill="#e4bba2"/>
<path d="M12.4 11 Q18.5 6.5 25.4 11.4 L25.4 8.4 Q18.5 3.8 12.4 8.6Z" fill="#5e3725"/>
<path d="M11.6 12.9 H24.6" stroke="#3b2a36" stroke-width="1.5"/>
<path d="M13 13 Q15.5 16 17.6 13 M19.8 13 Q22 16 24 13" stroke="#6b4a4a" stroke-width="0.9" fill="none"/>
<path d="M16.2 20.4 Q18.7 22.4 21.4 20.4" stroke="#f7eee9" stroke-width="1.3" fill="none"/>
</g></svg>
<svg class="a" style="left:580.5px;top:934.40px" width="36" height="36" viewBox="0 0 36 36">
<g clip-path="url(#cav)"><circle cx="18" cy="18" r="18" fill="#4f4945"/>
<rect x="8" y="0" width="2.4" height="36" fill="#7a7470" opacity="0.7"/>
<rect x="29.5" y="14" width="2" height="12" fill="#8d8a88" opacity="0.6"/>
<path d="M1 36 L4 29 Q7 25.4 12 25 L25 25 Q30 25.4 33 29 L35 36Z" fill="#d6a43e"/>
<path d="M10 28.4 Q9 18 10.5 9 Q13 2.3 19 2.3 Q25.5 2.6 27.6 9 Q29.6 18 28.8 27.6 Q26 29 24 26.2 L14 26.2 Q12 29.4 10 28.4Z" fill="#5e3725"/>
<path d="M15.2 21.5 L22.6 21.5 L23.2 27.6 Q19 30.2 14.8 27.6Z" fill="#a2634a"/>
<ellipse cx="18.8" cy="16.2" rx="5.6" ry="7" fill="#e4bba2"/>
<path d="M12.4 11 Q18.5 6.5 25.4 11.4 L25.4 8.4 Q18.5 3.8 12.4 8.6Z" fill="#5e3725"/>
<path d="M11.6 12.9 H24.6" stroke="#3b2a36" stroke-width="1.5"/>
<path d="M13 13 Q15.5 16 17.6 13 M19.8 13 Q22 16 24 13" stroke="#6b4a4a" stroke-width="0.9" fill="none"/>
<path d="M16.2 20.4 Q18.7 22.4 21.4 20.4" stroke="#f7eee9" stroke-width="1.3" fill="none"/>
</g></svg>
<svg class="a" style="left:1100px;top:934.40px" width="36" height="36" viewBox="0 0 36 36">
<g clip-path="url(#cav)"><circle cx="18" cy="18" r="18" fill="#4f4945"/>
<rect x="8" y="0" width="2.4" height="36" fill="#7a7470" opacity="0.7"/>
<rect x="29.5" y="14" width="2" height="12" fill="#8d8a88" opacity="0.6"/>
<path d="M1 36 L4 29 Q7 25.4 12 25 L25 25 Q30 25.4 33 29 L35 36Z" fill="#d6a43e"/>
<path d="M10 28.4 Q9 18 10.5 9 Q13 2.3 19 2.3 Q25.5 2.6 27.6 9 Q29.6 18 28.8 27.6 Q26 29 24 26.2 L14 26.2 Q12 29.4 10 28.4Z" fill="#5e3725"/>
<path d="M15.2 21.5 L22.6 21.5 L23.2 27.6 Q19 30.2 14.8 27.6Z" fill="#a2634a"/>
<ellipse cx="18.8" cy="16.2" rx="5.6" ry="7" fill="#e4bba2"/>
<path d="M12.4 11 Q18.5 6.5 25.4 11.4 L25.4 8.4 Q18.5 3.8 12.4 8.6Z" fill="#5e3725"/>
<path d="M11.6 12.9 H24.6" stroke="#3b2a36" stroke-width="1.5"/>
<path d="M13 13 Q15.5 16 17.6 13 M19.8 13 Q22 16 24 13" stroke="#6b4a4a" stroke-width="0.9" fill="none"/>
<path d="M16.2 20.4 Q18.7 22.4 21.4 20.4" stroke="#f7eee9" stroke-width="1.3" fill="none"/>
</g></svg>
<svg class="a" style="left:580.5px;top:983.00px" width="36" height="36" viewBox="0 0 36 36">
<g clip-path="url(#cav)"><circle cx="18" cy="18" r="18" fill="#4f4945"/>
<rect x="8" y="0" width="2.4" height="36" fill="#7a7470" opacity="0.7"/>
<rect x="29.5" y="14" width="2" height="12" fill="#8d8a88" opacity="0.6"/>
<path d="M1 36 L4 29 Q7 25.4 12 25 L25 25 Q30 25.4 33 29 L35 36Z" fill="#d6a43e"/>
<path d="M10 28.4 Q9 18 10.5 9 Q13 2.3 19 2.3 Q25.5 2.6 27.6 9 Q29.6 18 28.8 27.6 Q26 29 24 26.2 L14 26.2 Q12 29.4 10 28.4Z" fill="#5e3725"/>
<path d="M15.2 21.5 L22.6 21.5 L23.2 27.6 Q19 30.2 14.8 27.6Z" fill="#a2634a"/>
<ellipse cx="18.8" cy="16.2" rx="5.6" ry="7" fill="#e4bba2"/>
<path d="M12.4 11 Q18.5 6.5 25.4 11.4 L25.4 8.4 Q18.5 3.8 12.4 8.6Z" fill="#5e3725"/>
<path d="M11.6 12.9 H24.6" stroke="#3b2a36" stroke-width="1.5"/>
<path d="M13 13 Q15.5 16 17.6 13 M19.8 13 Q22 16 24 13" stroke="#6b4a4a" stroke-width="0.9" fill="none"/>
<path d="M16.2 20.4 Q18.7 22.4 21.4 20.4" stroke="#f7eee9" stroke-width="1.3" fill="none"/>
</g></svg>
<svg class="a" style="left:1100px;top:983.00px" width="36" height="36" viewBox="0 0 36 36">
<g clip-path="url(#cav)"><circle cx="18" cy="18" r="18" fill="#4f4945"/>
<rect x="8" y="0" width="2.4" height="36" fill="#7a7470" opacity="0.7"/>
<rect x="29.5" y="14" width="2" height="12" fill="#8d8a88" opacity="0.6"/>
<path d="M1 36 L4 29 Q7 25.4 12 25 L25 25 Q30 25.4 33 29 L35 36Z" fill="#d6a43e"/>
<path d="M10 28.4 Q9 18 10.5 9 Q13 2.3 19 2.3 Q25.5 2.6 27.6 9 Q29.6 18 28.8 27.6 Q26 29 24 26.2 L14 26.2 Q12 29.4 10 28.4Z" fill="#5e3725"/>
<path d="M15.2 21.5 L22.6 21.5 L23.2 27.6 Q19 30.2 14.8 27.6Z" fill="#a2634a"/>
<ellipse cx="18.8" cy="16.2" rx="5.6" ry="7" fill="#e4bba2"/>
<path d="M12.4 11 Q18.5 6.5 25.4 11.4 L25.4 8.4 Q18.5 3.8 12.4 8.6Z" fill="#5e3725"/>
<path d="M11.6 12.9 H24.6" stroke="#3b2a36" stroke-width="1.5"/>
<path d="M13 13 Q15.5 16 17.6 13 M19.8 13 Q22 16 24 13" stroke="#6b4a4a" stroke-width="0.9" fill="none"/>
<path d="M16.2 20.4 Q18.7 22.4 21.4 20.4" stroke="#f7eee9" stroke-width="1.3" fill="none"/>
</g></svg>
<svg class="a" style="left:1830px;top:360px" width="30" height="30" viewBox="1830 360 30 30"><path d="M1843 364 V384.6 M1836.2 377.8 L1843 384.6 L1849.8 377.8" fill="none" stroke="#0c0e29" stroke-width="2"/></svg>
<div class="r" style="left:0;top:351px;width:675px;height:1000px;background:#fff;"></div>
<div class="r" style="left:675px;top:351px;width:26px;height:1000px;background:linear-gradient(to right, rgba(80,90,165,0.12), rgba(80,90,165,0.05) 30%, rgba(80,90,165,0));"></div>
<svg class="a" style="left:0;top:0" width="675" height="1356" viewBox="0 0 675 1356"><rect x="0" y="351" width="675" height="1" fill="#e8ebf2"/><rect x="0" y="399" width="675" height="1" fill="#e6e9f1"/><rect x="0" y="415" width="675" height="47" fill="#f3f4f9"/><rect x="0" y="415" width="675" height="1" fill="#d6dce8"/><rect x="0" y="462" width="675" height="1" fill="#d6dce8"/><rect x="0" y="526" width="675" height="48" fill="#f3f4f9"/><rect x="0" y="526" width="675" height="1" fill="#d6dce8"/><rect x="0" y="574" width="675" height="1" fill="#d6dce8"/><rect x="0" y="638" width="675" height="47" fill="#f3f4f9"/><rect x="0" y="638" width="675" height="1" fill="#d6dce8"/><rect x="0" y="685" width="675" height="1" fill="#d6dce8"/><rect x="0" y="511" width="675" height="1" fill="#e6e9f1"/><rect x="0" y="623" width="675" height="1" fill="#e6e9f1"/><rect x="0" y="734" width="675" height="1" fill="#e6e9f1"/><rect x="0" y="783" width="675" height="1" fill="#e6e9f1"/><rect x="0" y="831" width="675" height="1" fill="#e6e9f1"/><rect x="0" y="880" width="675" height="1" fill="#e6e9f1"/><rect x="0" y="929" width="675" height="1" fill="#e6e9f1"/><rect x="0" y="977" width="675" height="1" fill="#e6e9f1"/><rect x="0" y="1026" width="675" height="1" fill="#e6e9f1"/><polyline points="126.2,434.80 133,441.70 139.8,434.80" fill="none" stroke="#0c0e29" stroke-width="1.45"/><polyline points="126.2,546.80 133,553.70 139.8,546.80" fill="none" stroke="#0c0e29" stroke-width="1.45"/><polyline points="126.2,657.80 133,664.70 139.8,657.80" fill="none" stroke="#0c0e29" stroke-width="1.45"/><path d="M132.4 1054.6 V1074.3 M122.5 1064.4 H142.3" stroke="#0c0e29" stroke-width="2"/><polyline points="295.3,1065 302.8,1057.3 310.4,1065" fill="none" stroke="#58698c" stroke-width="2"/><path d="M326 1057 L335.4 1066.2 H330.8 V1073 H321.2 V1066.2 H316.6Z" fill="none" stroke="#58698c" stroke-width="1.9" stroke-linejoin="round"/></svg>
<svg class="a" style="left:340px;top:474.10px" width="24" height="24" viewBox="0 0 24 24"><path d="M4.3 2.5 H20 Q21.7 2.5 21.7 4.2 V15.8 L14.7 22.6 H4.3 Q2.6 22.6 2.6 20.9 V4.2 Q2.6 2.5 4.3 2.5Z" fill="none" stroke="#0c0e29" stroke-width="2" stroke-linejoin="round"/><path d="M15.6 22 V15.3 H21.4" fill="none" stroke="#0c0e29" stroke-width="2"/></svg>
<svg class="a" style="left:478px;top:791.50px" width="26" height="28" viewBox="0 0 26 28"><path d="M7 4.8 H5.3 Q3.6 4.8 3.6 6.5 V23.6 Q3.6 25.3 5.3 25.3 H20.7 Q22.4 25.3 22.4 23.6 V6.5 Q22.4 4.8 20.7 4.8 H19" fill="none" stroke="#0c0e29" stroke-width="2"/><rect x="7.8" y="2.2" width="10.4" height="4.8" rx="1.4" fill="none" stroke="#0c0e29" stroke-width="2"/><path d="M6.8 12.4 H19.2 M6.8 16.1 H19.2" stroke="#0c0e29" stroke-width="1.8"/></svg>
<div class="L"><div class="t" style="left:160.75px;top:375.19px;font-size:26px;color:#58698c;letter-spacing:-0.298px;">Name</div>
<div class="t" style="left:41.80px;top:488.00px;font-size:22.5px;color:#58698c;">1</div>
<div class="t" style="left:111.50px;top:486.99px;font-size:26px;color:#0c0e29;">Creative Workflow</div>
<div class="t" style="left:41.80px;top:599.00px;font-size:22.5px;color:#58698c;">2</div>
<div class="t" style="left:110.50px;top:597.99px;font-size:26px;color:#0c0e29;letter-spacing:0.217px;">Default Workflow</div>
<div class="t" style="left:42.30px;top:711.00px;font-size:22.5px;color:#58698c;">3</div>
<div class="t" style="left:112.50px;top:709.99px;font-size:26px;color:#0c0e29;letter-spacing:0.046px;">Asset &amp; Content Workflow</div>
<div class="t" style="left:42.30px;top:759.00px;font-size:22.5px;color:#58698c;">4</div>
<div class="t" style="left:110.50px;top:757.99px;font-size:26px;color:#0c0e29;letter-spacing:0.192px;">New workflow</div>
<div class="t" style="left:42.30px;top:808.00px;font-size:22.5px;color:#58698c;">5</div>
<div class="t" style="left:110.50px;top:806.99px;font-size:26px;color:#0c0e29;letter-spacing:-0.024px;">Professional Service Workflow</div>
<div class="t" style="left:41.80px;top:856.30px;font-size:22.5px;color:#58698c;">6</div>
<div class="t" style="left:110.50px;top:855.29px;font-size:26px;color:#0c0e29;letter-spacing:0.193px;">Project Confidence</div>
<div class="t" style="left:41.80px;top:905.00px;font-size:22.5px;color:#58698c;">7</div>
<div class="t" style="left:112.50px;top:903.99px;font-size:26px;color:#0c0e29;letter-spacing:0.153px;">Test workflow</div>
<div class="t" style="left:42.30px;top:953.40px;font-size:22.5px;color:#58698c;">8</div>
<div class="t" style="left:112.50px;top:952.39px;font-size:26px;color:#0c0e29;letter-spacing:0.048px;">Waterfall Project</div>
<div class="t" style="left:41.80px;top:1002.00px;font-size:22.5px;color:#58698c;">9</div>
<div class="t" style="left:112.50px;top:1000.99px;font-size:26px;color:#0c0e29;letter-spacing:0.024px;">Weekly To-Do list</div>
<div class="t" style="left:162.10px;top:437.99px;font-size:26px;color:#0c0e29;letter-spacing:0.486px;">51 – 500</div>
<div class="t" style="left:283.40px;top:437.99px;font-size:26px;color:#58698c;">1</div>
<div class="t" style="left:163.40px;top:549.99px;font-size:26px;color:#0c0e29;letter-spacing:-0.045px;">1 – 50</div>
<div class="t" style="left:252.75px;top:549.99px;font-size:26px;color:#58698c;">1</div>
<div class="t" style="left:160.60px;top:660.99px;font-size:26px;color:#0c0e29;letter-spacing:0.110px;">Never changed</div>
<div class="t" style="left:352.40px;top:660.99px;font-size:26px;color:#58698c;">7</div>
<div class="t" style="left:163.10px;top:1064.79px;font-size:26px;color:#0c0e29;letter-spacing:-0.050px;">Workflow</div>
<div class="t" style="left:338.00px;top:1064.89px;font-size:26px;color:#58698c;">N</div></div>
<div class="r" style="left:1569px;top:360px;width:22px;height:36px;background:linear-gradient(to right, rgba(255,255,255,.95) 0, rgba(255,255,255,.88) 15px, rgba(255,255,255,.5) 18px, rgba(255,255,255,0) 21px);"></div>
<svg class="a" style="left:1540px;top:340px" width="1316" height="710" viewBox="1540 340 1316 710"><defs><filter id="ds" x="-5%" y="-5%" width="110%" height="110%"><feDropShadow dx="0" dy="2.2" stdDeviation="1.6" flood-color="#000" flood-opacity="0.33"/></filter></defs><rect x="1565" y="355" width="1280" height="670" rx="17" ry="17" fill="none" stroke="#83b84f" stroke-width="4" filter="url(#ds)"/></svg>
<div class="r" style="left:0;top:1351px;width:675px;height:5px;background:#e5e8f1;"></div>
<div class="r" style="left:440px;top:1250px;width:1935px;height:106px;background:linear-gradient(to bottom, rgba(0,0,0,0) 0%, rgba(0,0,0,0.006) 13%, rgba(0,0,0,0.028) 49%, rgba(0,0,0,0.05) 76%, rgba(0,0,0,0.082) 100%);-webkit-mask-image:linear-gradient(to right, transparent 0, #000 200px, #000 1745px, transparent 1935px);mask-image:linear-gradient(to right, transparent 0, #000 200px, #000 1745px, transparent 1935px);"></div>
<script>(function(){var w=window.innerWidth;if(w&&Math.abs(w-2856)>2){document.documentElement.style.zoom=w/2856;}})();</script>
</body></html>
